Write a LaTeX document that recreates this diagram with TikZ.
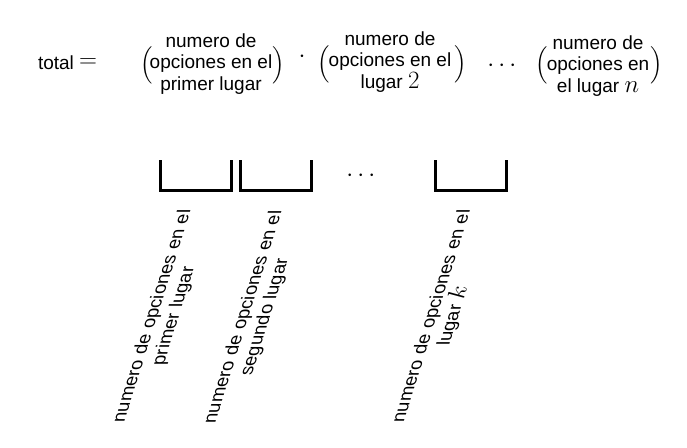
\documentclass[tikz,border=0pt]{standalone}
\usepackage[no-math]{fontspec}
\usepackage{amsmath}
\setmainfont{Liberation Sans}
\newcommand\tsz{\fontsize{19}{21.5}\selectfont}
\newcommand\lsz{\fontsize{18.5}{21.5}\selectfont}
\newcommand\msz{\fontsize{23.5}{26}\selectfont}
\newcommand\psz{\fontsize{20.5}{24}\selectfont}
\begin{document}
\begin{tikzpicture}[x=1pt,y=-1pt,
  txt/.style={font=\tsz, align=center, inner sep=0pt},
  mth/.style={font=\msz, inner sep=0pt},
  paren/.style={font=\psz, inner sep=0pt},
  slot/.style={line width=3pt},
  lab/.style={font=\lsz, align=center, inner sep=0pt, cm={0.314,1,-1,0,(0,0)}}]
\useasboundingbox (0,0) rectangle (687,447);
\node[txt] (total) at (56,63) {total};
\node[mth] (eq) at (88,63) {$=$};
\node[paren] (l1) at (147,65.5) {$\Big($};
\node[txt] (g1) at (211,64) {numero de\\opciones en el\\primer lugar};
\node[paren] (r1) at (279,65.5) {$\Big)$};
\node[mth] (dot) at (302,57) {$\cdot$};
\node[paren] (l2) at (324,64) {$\Big($};
\node[txt] (g2) at (390,62) {numero de\\opciones en el\\lugar {\msz$2$}};
\node[paren] (r2) at (461,64) {$\Big)$};
\node[mth] (dots) at (504,66) {$\cdots$};
\node[paren] (l3) at (542,65.5) {$\Big($};
\node[txt] (g3) at (598,66) {numero de\\opciones en\\el lugar {\msz$n$}};
\node[paren] (r3) at (657,65.5) {$\Big)$};
\draw[slot] (160,160) -- (160,190) -- (231,190) -- (231,160);
\draw[slot] (240,160) -- (240,190) -- (311,190) -- (311,160);
\draw[slot] (435,160) -- (435,190) -- (506,190) -- (506,160);
\node[mth] (hd) at (363,176) {$\cdots$};
\node[lab] (lab1) at (163.5,316) {numero de opciones en el\\primer lugar};
\node[lab] (lab2) at (254.5,317) {numero de opciones en el\\segundo lugar};
\node[lab] (lab3) at (443,316) {numero de opciones en el\\lugar {\msz$k$}};
\end{tikzpicture}
\end{document}
